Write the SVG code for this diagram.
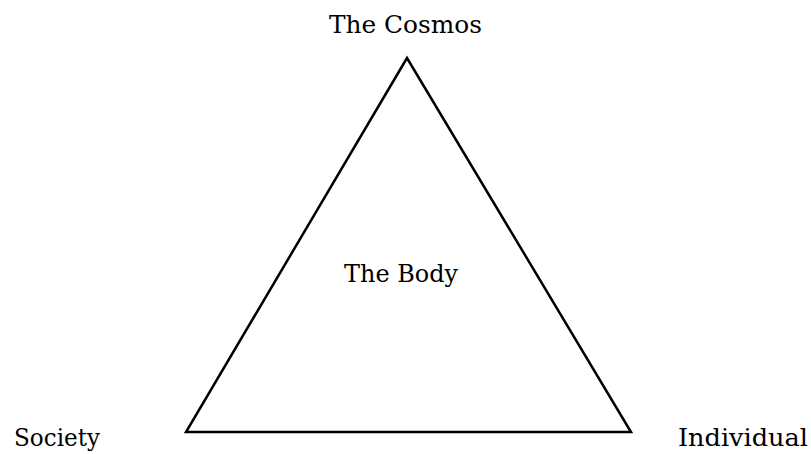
<svg xmlns="http://www.w3.org/2000/svg" width="811" height="454" viewBox="0 0 811 454">
<style>
.lbl{font-family:"DejaVu Serif","Liberation Serif",serif;font-size:25px;fill:#000}
.edge{fill:none;stroke:#000;stroke-width:2.5;stroke-linejoin:miter}
</style>
<rect width="811" height="454" fill="#fff"/>
<g id="connectors">
<polygon class="edge" points="407,58 186,432 631,432"/>
</g>
<g id="cosmos"><text class="lbl" x="329" y="33" textLength="153" lengthAdjust="spacingAndGlyphs">The Cosmos</text></g>
<g id="body"><text class="lbl" x="344" y="282" textLength="114" lengthAdjust="spacingAndGlyphs">The Body</text></g>
<g id="society"><text class="lbl" x="14" y="446" textLength="86" lengthAdjust="spacingAndGlyphs">Society</text></g>
<g id="individual"><text class="lbl" x="678" y="446" textLength="130" lengthAdjust="spacingAndGlyphs">Individual</text></g>
</svg>
